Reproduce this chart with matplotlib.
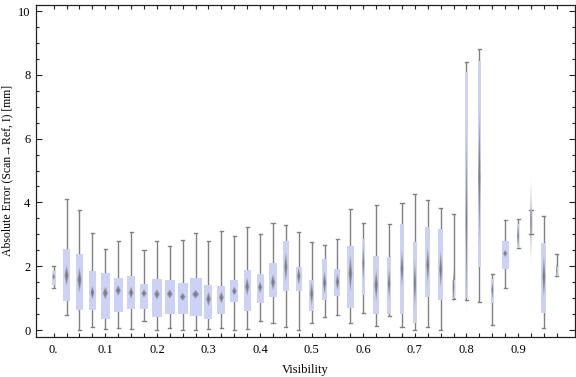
import matplotlib
matplotlib.use('Agg')
import matplotlib.pyplot as plt
from matplotlib.patches import Rectangle, Polygon

# visibility bins (box positions)
vis = [0.000, 0.025, 0.050, 0.075, 0.100, 0.125, 0.150, 0.175, 0.200, 0.225,
       0.250, 0.275, 0.300, 0.325, 0.350, 0.375, 0.400, 0.425, 0.450, 0.475,
       0.500, 0.525, 0.550, 0.575, 0.600, 0.625, 0.650, 0.675, 0.700, 0.725,
       0.750, 0.775, 0.800, 0.825, 0.850, 0.875, 0.900, 0.925, 0.950, 0.975]

# whisker ends, quartiles, centre of diamond
w_lo = [1.31, 0.46, 0.00, 0.09, 0.02, 0.05, 0.02, 0.27, 0.00, 0.05,
        0.00, 0.00, 0.02, 0.05, 0.00, 0.02, 0.27, 0.23, 0.08, 0.00,
        0.21, 0.40, 0.46, 0.21, 0.52, 0.13, 0.44, 0.08, 0.00, 0.08,
        0.00, 0.96, 0.93, 0.87, 0.15, 1.32, 2.56, 3.00, 0.05, 1.68]
q1 = [1.41, 0.92, 0.62, 0.62, 0.33, 0.57, 0.66, 0.67, 0.42, 0.50,
      0.50, 0.45, 0.36, 0.50, 0.88, 0.61, 0.86, 1.04, 1.23, 1.23,
      0.61, 0.95, 1.08, 0.70, 1.10, 0.50, 0.51, 0.51, 0.23, 1.04,
      0.95, 1.01, 1.01, 1.97, 0.86, 1.90, 2.56, 3.00, 0.54, 1.68]
mid = [1.67, 1.71, 1.57, 1.17, 1.16, 1.24, 1.17, 1.15, 1.12, 1.13,
       1.04, 1.12, 0.97, 1.02, 1.22, 1.36, 1.34, 1.50, 1.98, 1.69,
       1.13, 1.48, 1.51, 1.78, 2.09, 1.41, 1.46, 1.93, 1.46, 2.04,
       1.90, 1.36, 3.45, 4.80, 1.25, 2.40, 2.95, 3.40, 1.67, 1.85]
q3 = [1.84, 2.53, 2.37, 1.85, 1.79, 1.63, 1.69, 1.44, 1.60, 1.57,
      1.47, 1.63, 1.41, 1.38, 1.57, 1.88, 1.76, 2.09, 2.79, 1.97,
      1.57, 2.23, 1.91, 2.63, 2.85, 2.32, 2.30, 3.32, 2.76, 3.23,
      3.17, 1.57, 8.08, 8.43, 1.59, 2.79, 3.32, 3.75, 2.72, 1.98]
w_hi = [2.02, 4.12, 3.75, 3.03, 2.53, 2.78, 3.06, 2.50, 2.78, 2.64,
        2.81, 3.03, 2.78, 3.09, 2.94, 3.22, 3.00, 3.34, 3.28, 3.06,
        2.75, 2.65, 2.84, 3.78, 3.34, 3.91, 3.31, 3.97, 4.26, 4.07,
        3.81, 3.63, 8.39, 8.80, 1.76, 3.44, 3.47, 3.75, 3.56, 2.37]
# half height of the diamond (confidence band)
d_half = [0.12, 0.34, 0.42, 0.23, 0.21, 0.18, 0.20, 0.14, 0.17, 0.16,
          0.14, 0.15, 0.23, 0.20, 0.15, 0.30, 0.20, 0.27, 0.50, 0.30,
          0.40, 0.40, 0.28, 0.60, 0.60, 0.50, 0.50, 0.60, 0.80, 0.60,
          0.60, 0.60, 3.00, 2.20, 0.30, 0.12, 0.40, 1.40, 0.70, 0.30]
# box widths (in visibility units)
box_w = [0.0072, 0.0136, 0.0136, 0.0130, 0.0169, 0.0174, 0.0155, 0.0169, 0.0188, 0.0188,
         0.0188, 0.0233, 0.0155, 0.0155, 0.0155, 0.0136, 0.0136, 0.0136, 0.0103, 0.0110,
         0.0103, 0.0103, 0.0116, 0.0122, 0.0058, 0.0116, 0.0083, 0.0091, 0.0078, 0.0097,
         0.0097, 0.0045, 0.0052, 0.0072, 0.0058, 0.0136, 0.0052, 0.0039, 0.0097, 0.0033]

xticks = [0.0, 0.1, 0.2, 0.3, 0.4, 0.5, 0.6, 0.7, 0.8, 0.9]
xticklabels = ['0.', '0.1', '0.2', '0.3', '0.4', '0.5', '0.6', '0.7', '0.8', '0.9']
yticks = [0, 2, 4, 6, 8, 10]

serif = ['Liberation Serif', 'DejaVu Serif']
plt.rcParams['font.family'] = serif

fig = plt.figure(figsize=(5.76, 3.77), dpi=100)
ax = fig.add_axes([36 / 576, 1 - 336.7 / 377, 539 / 576, 332 / 377])

box_col = '#cbd2f5'
wh_col = '#808080'
cap = 0.003

for i in range(len(vis)):
    x = vis[i]
    ax.plot([x, x], [w_lo[i], w_hi[i]], color=wh_col, lw=1.0, zorder=1, solid_capstyle='butt')
    ax.plot([x - cap, x + cap], [w_lo[i], w_lo[i]], color=wh_col, lw=1.0, zorder=1)
    ax.plot([x - cap, x + cap], [w_hi[i], w_hi[i]], color=wh_col, lw=1.0, zorder=1)
    ax.add_patch(Rectangle((x - box_w[i] / 2, q1[i]), box_w[i], q3[i] - q1[i],
                           facecolor=box_col, edgecolor='none', zorder=2))
    # soft diamond: nested shapes fading outwards
    hw = box_w[i] * 0.32
    for s in [1.0, 0.85, 0.7, 0.55, 0.4, 0.25]:
        dx = hw * s
        dy = d_half[i] * s
        ax.add_patch(Polygon([(x - dx, mid[i]), (x, mid[i] + dy), (x + dx, mid[i]), (x, mid[i] - dy)],
                             closed=True, facecolor='#6a6a6a', edgecolor='none', alpha=0.27, zorder=3))

ax.set_xlim(-0.0343, 1.0103)
ax.set_ylim(-0.21, 10.2)

ax.set_xticks(xticks)
ax.set_xticklabels(xticklabels)
ax.set_xticks(vis, minor=True)
ax.set_yticks(yticks)
ax.set_yticks([v * 0.5 for v in range(21)], minor=True)

ax.tick_params(axis='both', which='both', direction='in', top=True, right=True,
               labelsize=9, width=0.8, color='#222222')
ax.tick_params(axis='x', which='both', length=3.0, pad=5)
ax.tick_params(axis='y', which='major', length=4.0, pad=4)
ax.tick_params(axis='y', which='minor', length=2.0)
for sp in ax.spines.values():
    sp.set_linewidth(0.9)
    sp.set_color('#222222')

ax.set_xlabel('Visibility', fontsize=9, labelpad=6)
ax.set_ylabel('Absolute Error (Scan\u2192Ref, I) [mm]', fontsize=8.5)
ax.yaxis.set_label_coords(-0.043, 0.5)

fig.savefig('out.png', dpi=100)
